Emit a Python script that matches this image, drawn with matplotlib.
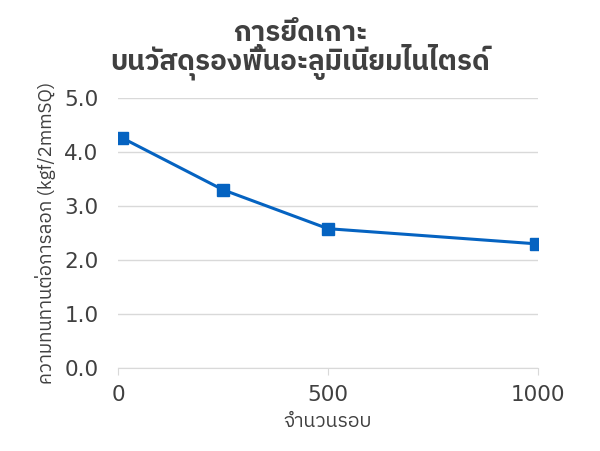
import matplotlib
matplotlib.use('Agg')
from matplotlib import pyplot as plt
from matplotlib import font_manager

cycles = [10, 250, 500, 995]
peel = [4.26, 3.30, 2.58, 2.30]
xticks = [0, 500, 1000]
yticks = [0.0, 1.0, 2.0, 3.0, 4.0, 5.0]
title = 'การยึดเกาะ\nบนวัสดุรองพื้นอะลูมิเนียมไนไตรด์'
xlabel = 'จำนวนรอบ'
ylabel = 'ความทนทานต่อการลอก (kgf/2mmSQ)'

names = sorted({f.name for f in font_manager.fontManager.ttflist})
thai = [n for n in names if 'Thai' in n or n in ('Loma', 'Garuda', 'Norasi', 'Waree', 'Sarabun', 'Kinnari', 'Umpush', 'Tlwg Typo')]
fam = thai + ['DejaVu Sans']

fig = plt.figure(figsize=(6, 4.51), dpi=100)
ax = fig.add_axes([118/600, 1 - 368/451, 420/600, 270/451])
ax.plot(cycles, peel, color='#0563C1', lw=2.2, marker='s', ms=8)
ax.set_xlim(0, 1000)
ax.set_ylim(0, 5)
ax.set_xticks(xticks)
ax.set_yticks(yticks)
ax.set_yticklabels([f'{v:.1f}' for v in yticks])
ax.yaxis.grid(True, color='#D9D9D9', lw=1)
ax.set_axisbelow(True)
for s in ['top', 'right', 'left']:
    ax.spines[s].set_visible(False)
ax.spines['bottom'].set_color('#D9D9D9')
ax.tick_params(axis='y', length=0, labelsize=15.5, colors='#404040', pad=14)
ax.tick_params(axis='x', length=5, color='#D9D9D9', labelsize=15.5, labelcolor='#404040', pad=7)
ax.set_xlabel(xlabel, family=fam, fontsize=14, color='#404040', labelpad=6)
ax.set_ylabel(ylabel, family=fam, fontsize=13.5, color='#404040', labelpad=6)
fig.suptitle(title, family=fam, fontsize=20, fontweight='bold', color='#404040', y=0.955, linespacing=0.85)
fig.savefig('out.png')
